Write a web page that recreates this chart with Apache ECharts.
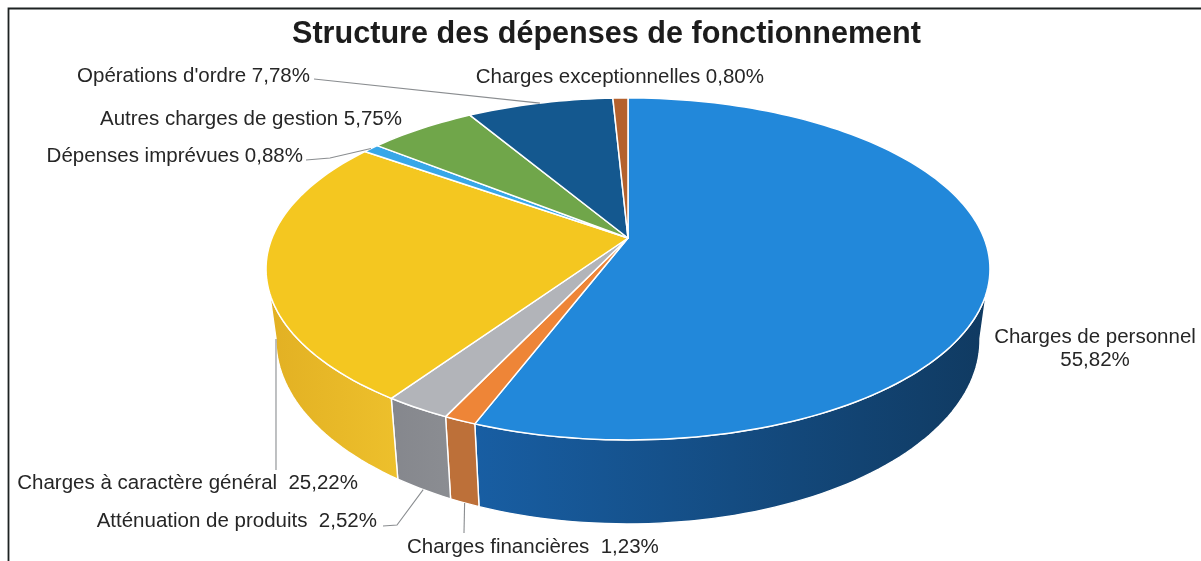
<!DOCTYPE html>
<html>
<head>
<meta charset="utf-8">
<style>html,body{margin:0;padding:0;background:#fff}#c{width:1201px;height:561px;filter:blur(0.4px)}</style>
<script src="https://cdn.jsdelivr.net/npm/echarts@6/dist/echarts.min.js"></script>
</head>
<body>
<div id="c"></div>
<script>
// ---- data, clockwise from the top of the pie ----
const titleText = 'Structure des dépenses de fonctionnement';
const names = ['Charges de personnel','Charges financières','Atténuation de produits','Charges à caractère général','Dépenses imprévues','Autres charges de gestion','Opérations d\'ordre','Charges exceptionnelles'];
const values = [55.82,1.23,2.52,25.22,0.88,5.75,7.78,0.80];

// ---- styles and placement ----
const topColors = ['#2288da','#ee8537','#b2b4b9','#f4c720','#38a7e8','#70a64a','#14588f','#b4612d'];
const wallColors = [['#185ea3','#103a61'],['#bd7039','#bd7039'],['#85878d','#8b8d92'],['#e2b023','#edc02c'],['#2a80b4','#2a80b4'],['#577f39','#577f39'],['#0f4370','#0f4370'],['#8a4a22','#8a4a22']];
const font = '"Liberation Sans", Arial, Helvetica, sans-serif';
const labelSize = 20.5;
const labelLayout = [
  {x:1095, y:349, align:'center', sep:'\n'},
  {x:407,  y:547, align:'left',  sep:'  ', line:{surface:'wall', via:[[464,533]]}},
  {x:377,  y:521, align:'right', sep:'  ', line:{surface:'wall', via:[[397,525],[383,526]]}},
  {x:358,  y:483, align:'right', sep:'  ', line:{surface:'wall', via:[[276,470]]}},
  {x:303,  y:156, align:'right', sep:' ',  line:{surface:'top',  via:[[330,158],[306,160]]}},
  {x:402,  y:119, align:'right', sep:' '},
  {x:310,  y:76,  align:'right', sep:' ',  line:{surface:'top',  via:[[314,79]]}},
  {x:764,  y:77,  align:'right', sep:' '}
];
// projection of the disc: same perspective for top face and bottom face
const persp = 0.181;
const topFace = {x:628, y:238, a:165.4, b:356};
const botFace = {x:628, y:306.7, a:177.9, b:346.2};
const wallFrom = 100, wallTo = 260;   // visible front part of the rim, in degrees

function pt(face, deg){
  const r = deg*Math.PI/180, u = Math.sin(r), v = Math.cos(r), w = 1+persp*v;
  return [face.x+face.b*u/w, face.y-face.a*v/w];
}
const total = values.reduce((s,v)=>s+v,0);
const edges = [0];
values.forEach(v=>edges.push(edges[edges.length-1]+v/total*360));
function arc(face, a0, a1){
  const n = Math.max(2, Math.ceil((a1-a0)/1.5)), out = [];
  for(let i=0;i<=n;i++) out.push(pt(face, a0+(a1-a0)*i/n));
  return out;
}

function renderWall(params){
  const i = params.dataIndex, a0 = Math.max(edges[i],wallFrom), a1 = Math.min(edges[i+1],wallTo);
  if(a1<=a0) return {type:'group',children:[]};
  const pts = arc(topFace,a0,a1).concat(arc(botFace,a0,a1).reverse());
  return {type:'polygon',shape:{points:pts},style:{
    fill:new echarts.graphic.LinearGradient(0,0,1,0,[{offset:0,color:wallColors[i][0]},{offset:1,color:wallColors[i][1]}]),
    stroke:'#ffffff',lineWidth:1.4}};
}
function renderTop(params){
  const i = params.dataIndex;
  const pts = [[topFace.x,topFace.y]].concat(arc(topFace,edges[i],edges[i+1]));
  return {type:'polygon',shape:{points:pts},style:{fill:topColors[i],stroke:'#ffffff',lineWidth:1.5,lineJoin:'round'}};
}
function renderLabel(params){
  const i = params.dataIndex, L = labelLayout[i], mid = (edges[i]+edges[i+1])/2, kids = [];
  if(L.line){
    const start = pt(L.line.surface==='wall'?botFace:topFace, mid);
    kids.push({type:'polyline',shape:{points:[start].concat(L.line.via)},style:{fill:null,stroke:'#8a8d90',lineWidth:1.1}});
  }
  const val = values[i].toFixed(2).replace('.',',')+'%';
  kids.push({type:'text',x:L.x,y:L.y,style:{text:names[i]+L.sep+val,x:0,y:0,fill:'#262626',font:labelSize+'px '+font,
    align:L.align,verticalAlign:'middle',lineHeight:23}});
  return {type:'group',children:kids};
}

const seriesData = values.map((v,i)=>({name:names[i],value:v}));
const chart = echarts.init(document.getElementById('c'),null,{renderer:'canvas'});
chart.setOption({
  animation:false,
  backgroundColor:'#ffffff',
  title:{text:titleText,left:601.5,top:30,textAlign:'center',textVerticalAlign:'middle',
    textStyle:{fontFamily:font,fontWeight:'bold',fontSize:30.6,color:'#1c1c1c'}},
  graphic:[
    {type:'polyline',silent:true,shape:{points:[[1201,8.5],[8.5,8.5],[8.5,561]]},style:{fill:null,stroke:'#1d2222',lineWidth:1.8}}
  ],
  series:[
    {type:'custom',coordinateSystem:'none',renderItem:renderWall,data:seriesData,silent:true,z:2},
    {type:'custom',coordinateSystem:'none',renderItem:renderTop,data:seriesData,silent:true,z:3},
    {type:'custom',coordinateSystem:'none',renderItem:renderLabel,data:seriesData,silent:true,z:4}
  ]
});
</script>
</body>
</html>
